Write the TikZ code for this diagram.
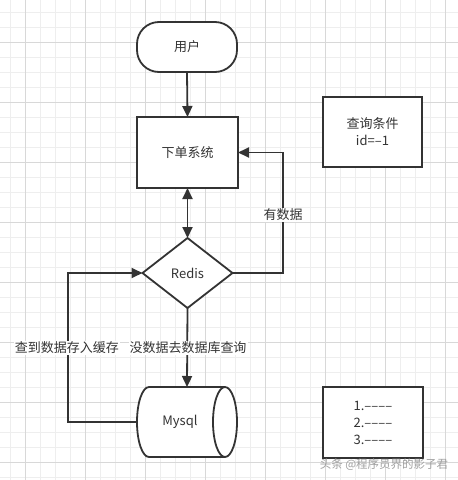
\documentclass[tikz,border=0pt]{standalone}
\usepackage{fontspec}
\newfontfamily\cjk{Noto Sans CJK SC}
\usetikzlibrary{arrows.meta,shapes.geometric}
\definecolor{gridminor}{HTML}{EEEEEE}
\definecolor{gridmajor}{HTML}{D8D8D8}
\definecolor{ink}{HTML}{333333}
\tikzset{
  box/.style={draw=ink, line width=1.8pt, fill=white, inner sep=0pt, outer sep=0pt, font=\cjk\fontsize{13}{17}\selectfont, text=ink, align=center},
  conn/.style={draw=ink, line width=1.8pt, -{Triangle[length=11pt,width=10pt]}},
  lbl/.style={fill=white, inner sep=1pt, font=\cjk\fontsize{13}{15}\selectfont, text=ink},
}
\begin{document}
\begin{tikzpicture}[x=1pt,y=-1pt]
\useasboundingbox (0,0) rectangle (458,480);
\fill[white] (0,0) rectangle (458,480);
% grid
\foreach \x in {10,25,...,458} \draw[gridminor, line width=0.6pt] (\x,0) -- (\x,480);
\foreach \y in {12,27,...,480} \draw[gridminor, line width=0.6pt] (0,\y) -- (458,\y);
\foreach \x in {25,85,...,458} \draw[gridmajor, line width=0.7pt] (\x,0) -- (\x,480);
\foreach \y in {42,102,...,480} \draw[gridmajor, line width=0.7pt] (0,\y) -- (458,\y);

% nodes
\node[box, rounded corners=22pt, minimum width=100pt, minimum height=50pt] (user) at (187,47) {用户};
\node[box, minimum width=101pt, minimum height=71pt] (order) at (187.5,152.5) {下单系统};
\node[box, diamond, aspect=1.25, minimum width=90pt, minimum height=70pt] (redis) at (187.5,273) {Redis};
\node[box, minimum width=99pt, minimum height=70pt] (cond) at (372.5,132) {查询条件\\id=–1};
\node[box, minimum width=100pt, minimum height=71pt, align=left] (list) at (373,422.5) {1.––––\\2.––––\\3.––––};

% Mysql cylinder
\draw[ink, line width=1.8pt, fill=white]
  (149,387) -- (225,387) arc[start angle=-90, end angle=90, x radius=12, y radius=35]
  -- (149,457) arc[start angle=90, end angle=270, x radius=12, y radius=35] -- cycle;
\draw[ink, line width=1.8pt] (225,387) arc[start angle=270, end angle=90, x radius=12, y radius=35];
\node[inner sep=0pt, outer sep=0pt, minimum width=100pt, minimum height=70pt] (mysql) at (187,422) {};
\node[font=\cjk\fontsize{13}{15}\selectfont, text=ink] (mysqltext) at (180,422) {Mysql};

% connectors
\draw[conn] (user.south) -- (order.north);
\draw[conn, {Triangle[length=11pt,width=10pt]}-{Triangle[length=11pt,width=10pt]}] (order.south) -- (redis.north);
\draw[conn] (redis.east) -| (283,200) |- (order.east);
\node[lbl] (yeslbl) at (283,215) {有数据};
\draw[conn] (redis.south) -- (mysql.north);
\node[lbl] (nolbl) at (188,348) {没数据去数据库查询};
\draw[conn] (mysql.west) -| (68,300) |- (redis.west);
\node[lbl] (backlbl) at (67,348) {查到数据存入缓存};

% watermark
\node[font=\cjk\fontsize{11.5}{13}\selectfont, text=gray!75, inner sep=0pt] (wm) at (384,465) {头条 @程序员界的影子君};
\end{tikzpicture}
\end{document}
